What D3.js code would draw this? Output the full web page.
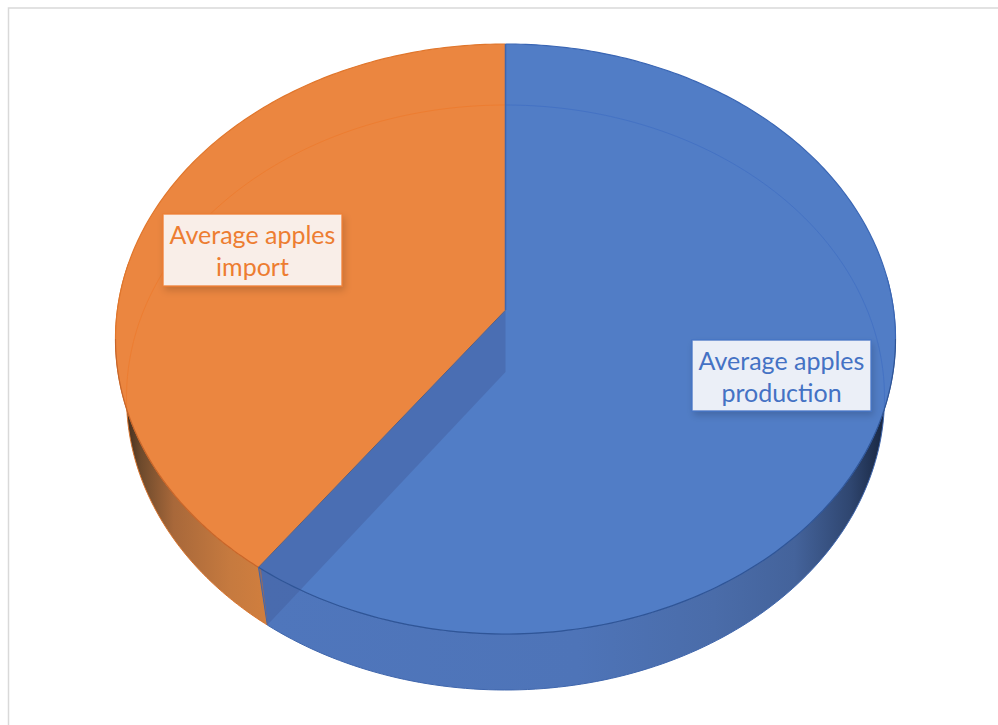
<!DOCTYPE html>
<html>
<head>
<meta charset="utf-8">
<script src="https://cdn.jsdelivr.net/npm/d3@7"></script>
<style>
html, body { margin: 0; padding: 0; background: #fff; }
svg { display: block; }
</style>
</head>
<body>
<div id="container"></div>
<script>
const categories = ["Average apples production", "Average apples import"];
const values = [60, 40];
const labelLines = [["Average apples", "production"], ["Average apples", "import"]];

const width = 998, height = 725;
const blue = "#517dc6", orange = "#eb8640";
// top and bottom rim of the disc, the bottom one is smaller because of the perspective
const topRim = { cx: 505.5, cy: 339, rx: 390, ry: 295, k: 0.098 };
const botRim = { cx: 505.5, cy: 397.5, rx: 379, ry: 292.5, k: 0.087 };
const boxes = [
    { x: 692, y: 340, w: 179, h: 71, fill: "#ebeff7", stroke: "#4472c4", text: "#4472c4" },
    { x: 163, y: 214, w: 179, h: 72, fill: "#f9eee8", stroke: "#ed7d31", text: "#ed7d31" }
];

// ellipse point, t is clockwise from the top
function rimPoint(r, t) {
    return [r.cx + r.rx * Math.sin(t), r.cy - r.ry * Math.cos(t)];
}
// the apex is not in the middle of the ellipse, so follow the ray to find the rim angle
function rimAngle(r, a) {
    var c = Math.cos(a), s = Math.sin(a);
    var d = -r.k * c + Math.sqrt(r.k * r.k * c * c - r.k * r.k + 1);
    var t = Math.atan2(d * s, r.k + d * c);
    return t < 0 ? t + 2 * Math.PI : t;
}
function apex(r) {
    return [r.cx, r.cy - r.ry * r.k];
}
function arcPoints(r, t0, t1) {
    return d3.range(0, 121).map(function (i) {
        return rimPoint(r, t0 + (t1 - t0) * i / 120);
    });
}
const line = d3.line();
const deg = Math.PI / 180;

const slices = d3.pie().sort(null).value(function (d) { return d; })(values);
const split = slices[0].endAngle;
const tTop = rimAngle(topRim, split), tBot = rimAngle(botRim, split);

const svg = d3.select("#container").append("svg").attr("width", width).attr("height", height);
const defs = svg.append("defs");

const shadow = defs.append("filter").attr("id", "shadow")
    .attr("x", "-10%").attr("y", "-15%").attr("width", "125%").attr("height", "140%");
shadow.append("feDropShadow").attr("dx", 2).attr("dy", 4).attr("stdDeviation", 3.5)
    .attr("flood-color", "#000").attr("flood-opacity", 0.16);

function wallGradient(id, x1, x2, stops) {
    const g = defs.append("linearGradient").attr("id", id).attr("gradientUnits", "userSpaceOnUse")
        .attr("x1", x1).attr("x2", x2).attr("y1", 0).attr("y2", 0);
    stops.forEach(function (s) {
        g.append("stop").attr("offset", s[0]).attr("stop-color", s[1]);
    });
}
wallGradient("wallBlue", 266, 888, [[0, "#4f76bc"], [0.5, "#4e74b8"], [0.72, "#4a6ca9"], [0.85, "#44639b"], [0.94, "#2f4670"], [1, "#16233c"]]);
wallGradient("wallOrange", 124, 266, [[0, "#3e2a1c"], [0.12, "#6e4a2c"], [0.35, "#a8683a"], [0.75, "#c67a3f"], [1, "#d07e3e"]]);

// frame of the screenshot
svg.append("path").attr("d", "M8.5,725V8H998").attr("fill", "none").attr("stroke", "#d9d9d9").attr("stroke-width", 1.5);

// side walls
function wall(t0, t1) {
    return line(arcPoints(botRim, t0, t1).concat(arcPoints(topRim, t0, t1).reverse())) + "Z";
}
svg.append("path").attr("d", wall(78 * deg, tBot)).attr("fill", "url(#wallBlue)")
    .attr("stroke", "#3f66ad").attr("stroke-width", 1);
svg.append("path").attr("d", wall(tBot, 285 * deg)).attr("fill", "url(#wallOrange)")
    .attr("stroke", "#d9752e").attr("stroke-width", 1);

// top faces
slices.forEach(function (s, i) {
    const t0 = i === 0 ? 0 : tTop, t1 = i === 0 ? tTop : 2 * Math.PI;
    svg.append("path")
        .attr("class", "slice")
        .datum(categories[i])
        .attr("d", line([apex(topRim)].concat(arcPoints(topRim, t0, t1))) + "Z")
        .attr("fill", i === 0 ? blue : orange);
});

// back rim of the bottom seen through the disc
svg.append("path").attr("d", line(arcPoints(botRim, 0, 92 * deg))).attr("fill", "none").attr("stroke", "#4472c4").attr("stroke-width", 1);
svg.append("path").attr("d", line(arcPoints(botRim, 0, -92 * deg))).attr("fill", "none").attr("stroke", "#ed7d31").attr("stroke-width", 1);

// cut face
const pTop = rimPoint(topRim, tTop), pBot = rimPoint(botRim, tBot);
svg.append("path").attr("d", line([apex(topRim), apex(botRim), pBot, pTop]) + "Z")
    .attr("fill", "#43609f").attr("fill-opacity", 0.5);

// rim lines and slice edges, darker along the front
function rim(t0, t1, color) {
    svg.append("path").attr("d", line(arcPoints(topRim, t0, t1))).attr("fill", "none").attr("stroke", color).attr("stroke-width", 1.2);
}
rim(0, 90 * deg, "#3a66b4");
rim(90 * deg, tTop, "#2f5597");
rim(tTop, 270 * deg, "#c8662a");
rim(270 * deg, 360 * deg, "#e0762c");
svg.append("path").attr("d", line([[topRim.cx, topRim.cy - topRim.ry], apex(topRim)])).attr("stroke", "#3f66ad").attr("stroke-width", 1.5);
svg.append("path").attr("d", line([apex(topRim), pTop])).attr("stroke", "#5f5f7a").attr("stroke-width", 1);
svg.append("path").attr("d", line([pTop, pBot])).attr("stroke", "#3f66ad").attr("stroke-width", 1);

// labels
boxes.forEach(function (b, i) {
    svg.append("rect").attr("x", b.x).attr("y", b.y).attr("width", b.w).attr("height", b.h)
        .attr("fill", b.fill).attr("stroke", b.stroke).attr("stroke-opacity", 0.85).attr("stroke-width", 1.5)
        .attr("filter", "url(#shadow)");
    labelLines[i].forEach(function (t, j) {
        svg.append("text").attr("x", b.x + b.w / 2).attr("y", b.y + 30 + j * 32)
            .attr("text-anchor", "middle").attr("font-family", "Lato").attr("font-size", 25)
            .attr("fill", b.text).text(t);
    });
});
</script>
</body>
</html>
